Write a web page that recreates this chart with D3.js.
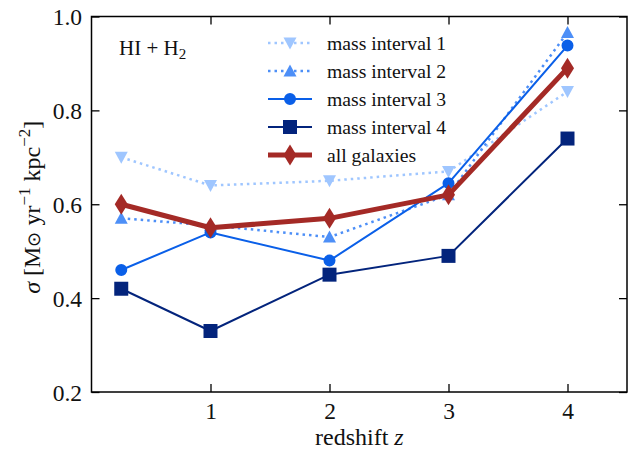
<!DOCTYPE html>
<html><head><meta charset="utf-8">
<script src="https://cdn.jsdelivr.net/npm/d3@7"></script>
<style>body{margin:0;background:#fff}svg{display:block}</style>
</head><body><svg id="c" width="639" height="456"></svg>
<script>
const redshift = [0.25, 1, 2, 3, 4];
const mass1 = [0.70, 0.64, 0.65, 0.67, 0.84];
const mass2 = [0.57, 0.555, 0.53, 0.62, 0.966];
const mass3 = [0.46, 0.54, 0.48, 0.645, 0.938];
const mass4 = [0.42, 0.33, 0.45, 0.49, 0.74];
const allGal = [0.60, 0.55, 0.57, 0.62, 0.89];
const seriesNames = ["mass interval 1","mass interval 2","mass interval 3","mass interval 4","all galaxies"];
const xTicks = [1,2,3,4];
const yTicks = [0.2,0.4,0.6,0.8,1.0];

const FONT = '"Liberation Serif"';
const svg = d3.select("#c");
const L=91.5,R=627,T=16.5,B=392;
const x = d3.scaleLinear().domain([0,4.5]).range([L,R]);
const y = d3.scaleLinear().domain([0.2,1.0]).range([B,T]);

const styles = [
 {vals:mass1,color:"#9fc6ff",w:2.5,dash:"2.5,4",marker:"tdown"},
 {vals:mass2,color:"#4d8ff7",w:2.5,dash:"2.5,4",marker:"tup"},
 {vals:mass3,color:"#0a5fe8",w:2,dash:null,marker:"circle"},
 {vals:mass4,color:"#03247c",w:2,dash:null,marker:"square"},
 {vals:allGal,color:"#a42a26",w:5,dash:null,marker:"diamond"}
];
function markerPath(m){
  switch(m){
    case "tdown": return "M-6.5,-5.5L6.5,-5.5L0,6.5Z";
    case "tup": return "M-6.5,5.5L6.5,5.5L0,-6.5Z";
    case "circle": return d3.symbol(d3.symbolCircle,113)();
    case "square": return "M-7,-7H7V7H-7Z";
    case "diamond": return "M0,-10.5L6.5,0L0,10.5L-6.5,0Z";
  }
}
const g = svg.append("g");
const ax = (gen,tr)=>{const a=g.append("g").attr("transform",tr).call(gen);a.attr("font-family",null);a.select(".domain").remove();a.selectAll("line").attr("stroke","#000").attr("stroke-width",1.3);return a;};
const bx = ax(d3.axisTop(x).tickValues(xTicks).tickSize(8).tickFormat(d3.format("d")),`translate(0,${B})`);
bx.selectAll("text").attr("y",27).attr("dy",0).style("font-family",FONT).style("font-size","23.5px").attr("fill","#111");
ax(d3.axisBottom(x).tickValues(xTicks).tickSize(8).tickFormat(""),`translate(0,${T})`);
const ly = ax(d3.axisRight(y).tickValues(yTicks).tickSize(8).tickFormat(d3.format(".1f")),`translate(${L},0)`);
ly.selectAll("text").attr("x",-9.5).attr("dy","0.34em").attr("text-anchor","end").style("font-family",FONT).style("font-size","23.5px").attr("fill","#111");
ax(d3.axisLeft(y).tickValues(yTicks).tickSize(8).tickFormat(""),`translate(${R},0)`);

const line = d3.line().x((d,i)=>x(redshift[i])).y(d=>y(d));
styles.forEach(s=>{
  g.append("path").attr("d",line(s.vals)).attr("fill","none").attr("stroke",s.color)
   .attr("stroke-width",s.w).attr("stroke-dasharray",s.dash).attr("stroke-linejoin","round");
  g.selectAll(null).data(s.vals).enter().append("path").attr("d",markerPath(s.marker))
   .attr("transform",(d,i)=>`translate(${x(redshift[i])},${y(d)})`).attr("fill",s.color);
});
g.append("rect").attr("x",L).attr("y",T).attr("width",R-L).attr("height",B-T).attr("fill","none").attr("stroke","#000").attr("stroke-width",1.5);

const lg = svg.append("g");
styles.forEach((s,i)=>{
  const yy=43+i*28;
  lg.append("line").attr("x1",268).attr("x2",312).attr("y1",yy).attr("y2",yy).attr("stroke",s.color)
    .attr("stroke-width",s.w).attr("stroke-dasharray",s.dash);
  lg.append("path").attr("d",markerPath(s.marker)).attr("transform",`translate(290,${yy})`).attr("fill",s.color);
  lg.append("text").attr("x",327).attr("y",yy+6.5).style("font-family",FONT).style("font-size","19.7px").attr("fill","#111").text(seriesNames[i]);
});
const an = svg.append("text").attr("x",119).attr("y",54.5).style("font-family",FONT).style("font-size","21px").attr("fill","#111");
an.append("tspan").text("HI + H");
an.append("tspan").attr("dy",4).style("font-size","15px").text("2");

const xl = svg.append("text").attr("x",315).attr("y",445).style("font-family",FONT).style("font-size","24px").attr("fill","#111");
xl.append("tspan").text("redshift ");
xl.append("tspan").style("font-style","italic").text("z");

const yl = svg.append("text").attr("transform",`translate(40,${(T+B)/2+3}) rotate(-90)`).attr("text-anchor","middle").style("font-family",FONT).style("font-size","24px").attr("fill","#111");
yl.append("tspan").style("font-style","italic").text("σ");
yl.append("tspan").text(" [M");
yl.append("tspan").style("font-size","18px").text("⊙");
yl.append("tspan").text(" yr");
yl.append("tspan").attr("dy",-10).style("font-size","17px").text("−1");
yl.append("tspan").attr("dy",10).text(" kpc");
yl.append("tspan").attr("dy",-10).style("font-size","17px").text("−2");
yl.append("tspan").attr("dy",10).text("]");
</script></body></html>
